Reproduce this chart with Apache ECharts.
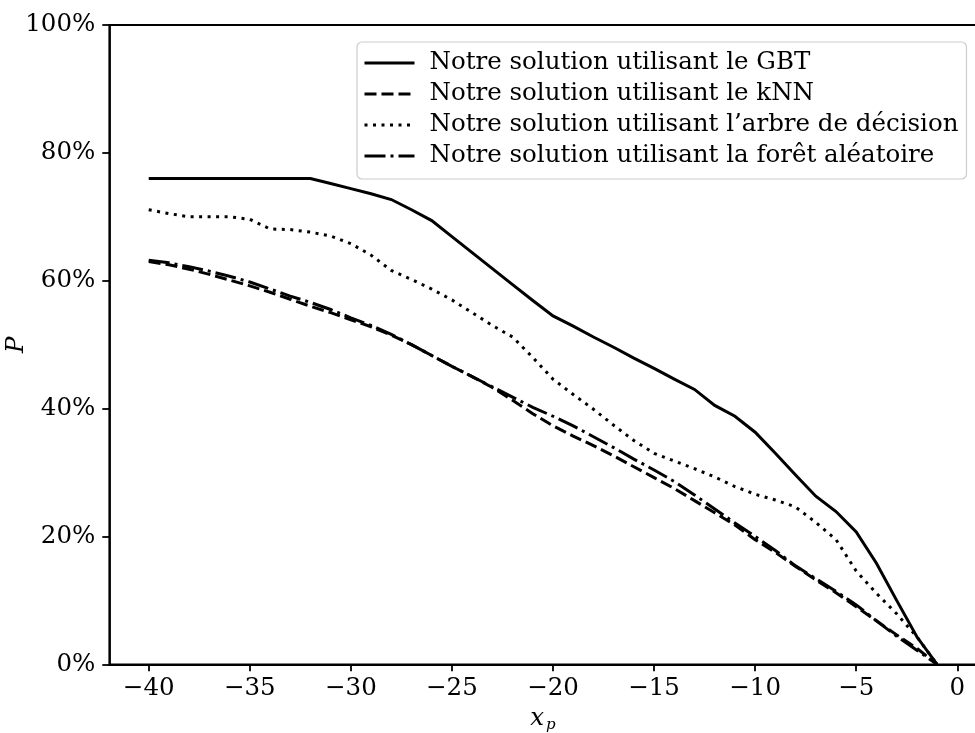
<!DOCTYPE html>
<html>
<head>
<meta charset="utf-8">
<script src="https://cdn.jsdelivr.net/npm/echarts@6/dist/echarts.min.js"></script>
<style>
  html, body { margin: 0; padding: 0; background: #fff; }
</style>
</head>
<body>
<div id="main" style="width: 975px;height: 733px"></div>
<script>
// x positions (x_p) and the four curves, in percent
var xValues = [-40,-39,-38,-37,-36,-35,-34,-33,-32,-31,-30,-29,-28,-27,-26,-25,-24,-23,-22,-21,
               -20,-19,-18,-17,-16,-15,-14,-13,-12,-11,-10,-9,-8,-7,-6,-5,-4,-3,-2,-1];
var gbt = [76,76,76,76,76,76,76,76,76,75.2,74.4,73.6,72.7,71.1,69.4,66.9,64.4,61.9,59.4,56.9,
           54.5,52.9,51.2,49.6,47.9,46.3,44.6,43.0,40.5,38.8,36.3,33.0,29.6,26.3,23.9,20.7,15.8,10.0,4.3,0];
var knn = [63.0,62.5,61.8,61.0,60.1,59.2,58.2,57.1,56.0,55.0,53.9,52.8,51.5,50.0,48.3,46.6,45.0,43.3,41.3,39.2,
           37.3,35.7,34.2,32.6,30.9,29.2,27.5,25.6,23.7,21.8,19.5,17.5,15.3,13.2,11.2,9.0,6.8,4.6,2.5,0];
var tree = [71.1,70.5,70.0,70.0,70.0,69.6,68.1,68.0,67.6,67.0,65.8,64.0,61.6,60.2,58.7,57.0,55.0,53.0,51.2,48.0,
            44.6,42.2,39.9,37.4,35.0,33.0,31.8,30.6,29.3,27.8,26.6,25.7,24.6,22.2,19.5,14.6,11.1,7.9,4.3,0];
var forest = [63.2,62.8,62.2,61.5,60.7,59.8,58.7,57.6,56.6,55.5,54.2,53.0,51.6,50.0,48.3,46.6,45.0,43.4,41.8,40.2,
              38.8,37.3,35.6,33.9,32.1,30.4,28.6,26.5,24.3,22.1,20.0,17.8,15.4,13.4,11.4,9.3,6.8,4.4,2.2,0];
var names = ['Notre solution utilisant le GBT', 'Notre solution utilisant le kNN',
             'Notre solution utilisant l\u2019arbre de décision', 'Notre solution utilisant la forêt aléatoire'];
var xTicks = [-40,-35,-30,-25,-20,-15,-10,-5,0];

var font = 'DejaVu Serif';
var fs = 24.5;
function pairs(ys) {
  return xValues.map(function (x, i) { return [x, ys[i]]; });
}

var chartDom = document.getElementById('main');
var myChart = echarts.init(chartDom);
var option;

function mkSeries(name, ys, dash) {
  return {
    name: name,
    type: 'line',
    symbol: 'none',
    data: pairs(ys),
    lineStyle: { color: '#000', width: 3, type: dash, cap: 'butt', join: 'miter' },
    itemStyle: { color: '#000' },
    emphasis: { disabled: true }
  };
}

option = {
  animation: false,
  backgroundColor: '#fff',
  textStyle: { fontFamily: font, color: '#000' },
  grid: {
    left: 109.3, top: 25, right: -1.5, bottom: 68.7,
    outerBoundsMode: 'none',
    show: true, borderColor: '#000', borderWidth: 1.8
  },
  legend: {
    orient: 'vertical',
    left: 357, top: 42,
    padding: [8, 8, 10, 6],
    itemWidth: 50, itemHeight: 14, itemGap: 5,
    itemStyle: { opacity: 0 },
    lineStyle: { width: 3 },
    backgroundColor: 'rgba(255,255,255,0.8)',
    borderColor: '#cccccc', borderWidth: 1.2, borderRadius: 5,
    textStyle: { fontFamily: font, fontSize: fs, color: '#000', lineHeight: 26, padding: [0, 0, 0, 10] },
    data: names
  },
  xAxis: {
    type: 'value',
    min: -41.95, max: 0.95,
    name: '{x|x}{p|p}',
    nameLocation: 'middle',
    nameGap: 38,
    nameTextStyle: {
      rich: {
        x: { fontFamily: font, fontStyle: 'italic', fontSize: fs, color: '#000' },
        p: { fontFamily: font, fontStyle: 'italic', fontSize: 15, color: '#000', padding: [12, 0, 0, 2] }
      }
    },
    axisLine: { show: true, onZero: false, lineStyle: { color: '#000', width: 1.8 } },
    axisTick: { show: true, length: 7, customValues: xTicks, lineStyle: { color: '#000', width: 1.8 } },
    axisLabel: {
      customValues: xTicks,
      margin: 12,
      fontFamily: font, fontSize: fs, color: '#000',
      formatter: function (v) { return v < 0 ? '\u2212' + Math.abs(v) : String(v); }
    },
    splitLine: { show: false }
  },
  yAxis: {
    type: 'value',
    min: 0, max: 100, interval: 20,
    name: 'P',
    nameLocation: 'middle',
    nameGap: 80,
    nameMoveOverlap: false,
    nameTextStyle: { fontFamily: font, fontStyle: 'italic', fontSize: fs, color: '#000' },
    axisLine: { show: true, onZero: false, lineStyle: { color: '#000', width: 1.8 } },
    axisTick: { show: true, length: 7, lineStyle: { color: '#000', width: 1.8 } },
    axisLabel: {
      margin: 14,
      fontFamily: font, fontSize: fs, color: '#000',
      formatter: '{value}%'
    },
    splitLine: { show: false }
  },
  series: [
    mkSeries(names[0], gbt, 'solid'),
    mkSeries(names[1], knn, [12, 5]),
    mkSeries(names[2], tree, [3, 5.5]),
    mkSeries(names[3], forest, [21, 5, 3, 5])
  ]
};

option && myChart.setOption(option);
</script>
</body>
</html>
